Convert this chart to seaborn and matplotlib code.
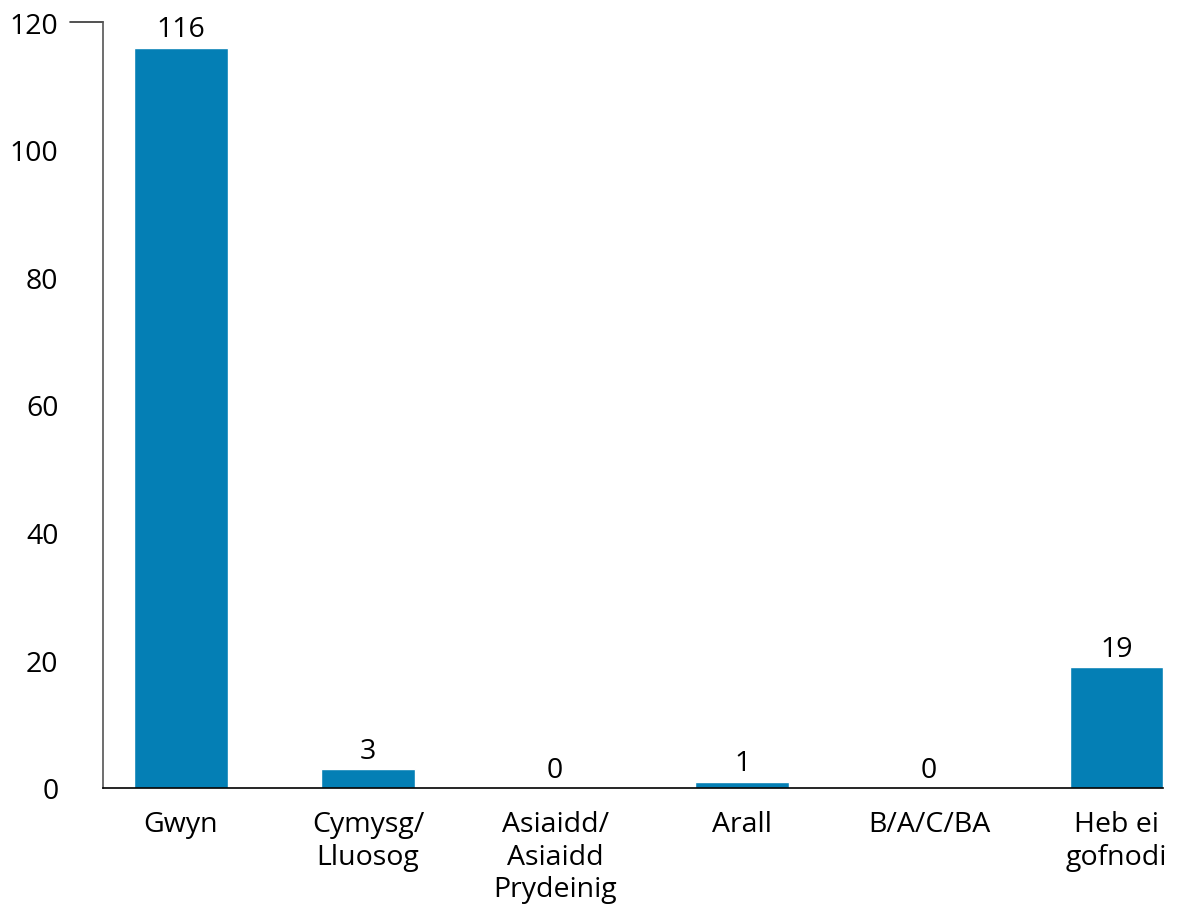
import matplotlib
matplotlib.use("Agg")
import matplotlib.pyplot as plt
import seaborn as sns
import pandas as pd

# data
categories = ["Gwyn", "Cymysg/\nLluosog", "Asiaidd/\nAsiaidd\nPrydeinig", "Arall", "B/A/C/BA", "Heb ei\ngofnodi"]
counts = [116, 3, 0, 1, 0, 19]
y_ticks = [0, 20, 40, 60, 80, 100, 120]

bar_colour = "#047FB5"

sns.set_theme(style="white")
plt.rcParams["font.family"] = ["Open Sans", "DejaVu Sans"]

df = pd.DataFrame({"group": categories, "count": counts})

fig = plt.figure(figsize=(11.78, 9.2), dpi=100)
ax = fig.add_axes([103 / 1178, 1 - 789 / 920, 1 - 103 / 1178, (789 - 23) / 920])

sns.barplot(data=df, x="group", y="count", color=bar_colour, width=0.5,
            saturation=1, ax=ax)

ax.set_ylim(0, 120)
ax.set_xlim(-0.417, 5.33)
ax.set_yticks(y_ticks)
ax.set_xlabel("")
ax.set_ylabel("")

ax.tick_params(axis="y", length=0, pad=32, labelsize=20.5, colors="black")
ax.tick_params(axis="x", length=0, pad=16, labelsize=20.5, colors="black")
for lab in ax.get_xticklabels():
    lab.set_linespacing(1.22)
    lab.set_verticalalignment("top")

for s in ["top", "right"]:
    ax.spines[s].set_visible(False)
ax.spines["left"].set_color("#555555")
ax.spines["left"].set_linewidth(1.2)
ax.spines["bottom"].set_color("black")
ax.spines["bottom"].set_linewidth(1.2)
ax.spines["bottom"].set_bounds(-0.417, 5.25)

# short tick at the top of the y axis only
ax.plot([-0.031, 0], [120, 120], transform=ax.get_yaxis_transform(),
        color="#333333", lw=1.2, clip_on=False)

ax.bar_label(ax.containers[0], labels=[str(v) for v in counts],
             padding=3, fontsize=20.5, color="black")

fig.savefig("out.png", dpi=100)
